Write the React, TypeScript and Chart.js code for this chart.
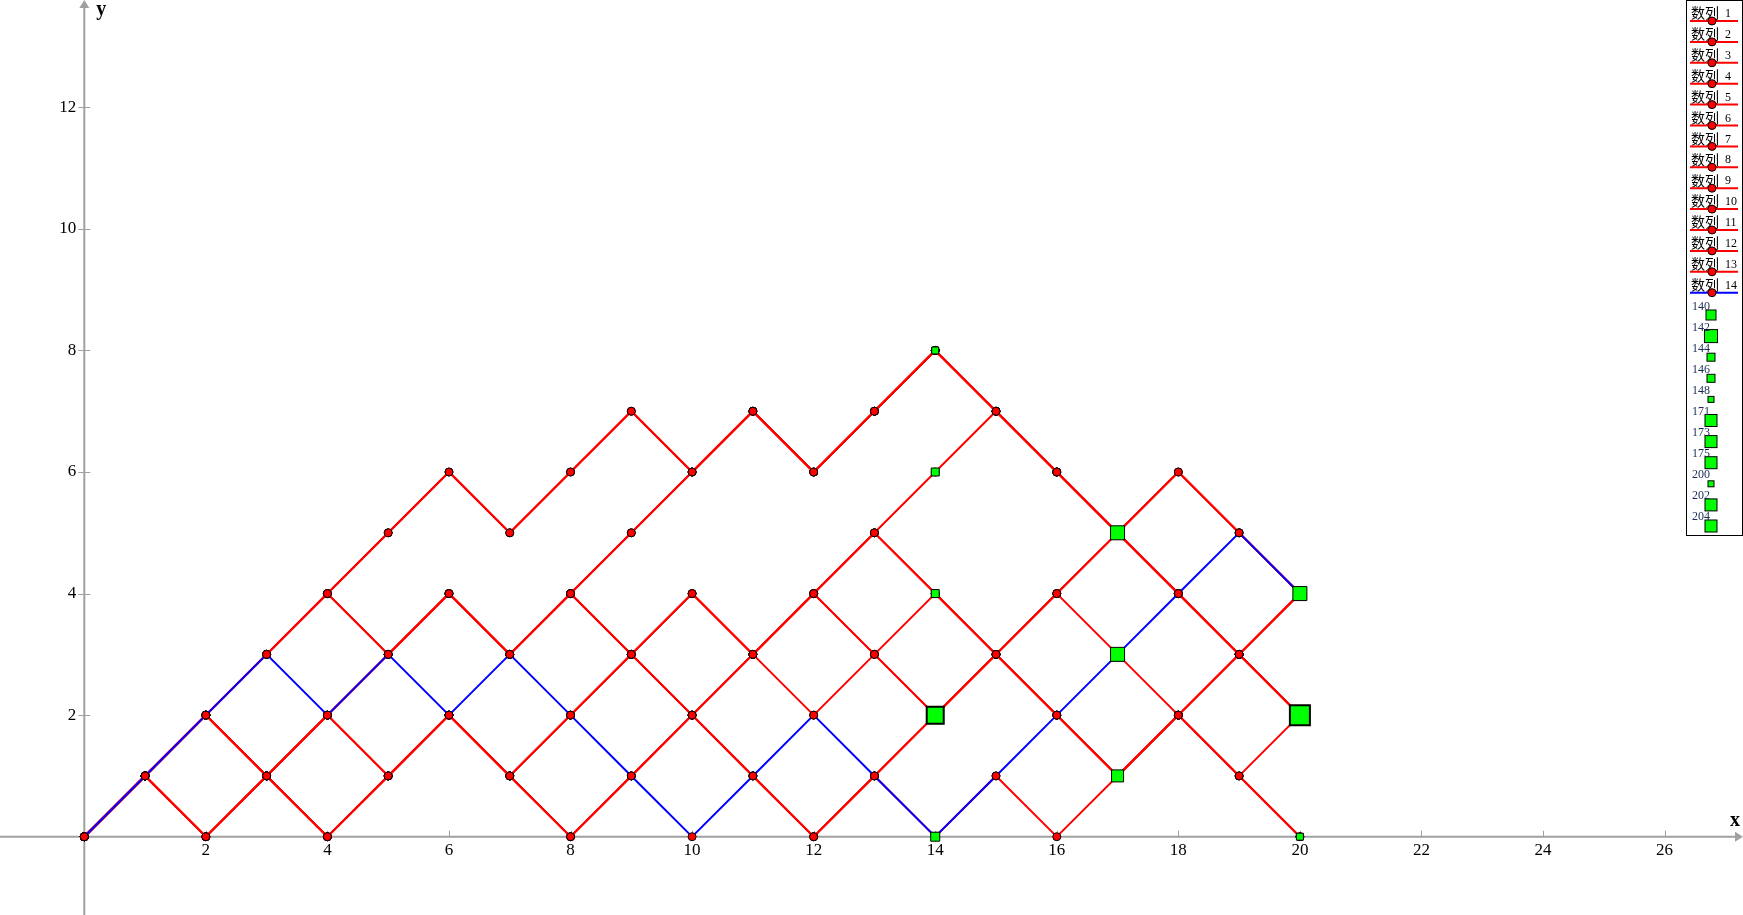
import React, { useEffect, useRef } from "react";
import { Chart, registerables } from "chart.js";

Chart.register(...registerables);

// ---- data ----
const steps = [0, 1, 2, 3, 4, 5, 6, 7, 8, 9, 10, 11, 12, 13, 14, 15, 16, 17, 18, 19, 20];

const path1 = [0, 1, 2, 3, 4, 5, 6, 5, 6, 7, 6, 7, 6, 7, 8, 7, 6, 5, 6, 5, 4];
const path2 = [0, 1, 2, 3, 4, 3, 4, 3, 4, 5, 6, 7, 6, 7, 8, 7, 6, 5, 4, 3, 2];
const path3 = [0, 1, 2, 1, 2, 3, 4, 3, 4, 3, 4, 3, 4, 5, 6, 7, 6, 5, 4, 3, 4];
const path4 = [0, 1, 0, 1, 0, 1, 2, 1, 0, 1, 2, 3, 4, 5, 4, 3, 4, 5, 4, 3, 2];
const path5 = [0, 1, 2, 1, 2, 1, 2, 1, 2, 3, 2, 1, 0, 1, 2, 3, 2, 1, 2, 1, 0];
const path6 = [0, 1, 0, 1, 2, 3, 4, 3, 4, 3, 2, 3, 2, 3, 4, 3, 4, 3, 2, 3, 2];
const path7 = [0, 1, 0, 1, 0, 1, 2, 1, 2, 3, 4, 3, 4, 3, 2, 3, 2, 1, 2, 1, 2];
const path8 = [0, 1, 2, 1, 0, 1, 2, 1, 0, 1, 2, 1, 0, 1, 0, 1, 0, 1, 2, 1, 0];
const path9 = [0, 1, 2, 3, 4, 3, 4, 3, 4, 3, 4, 3, 4, 5, 4, 3, 2, 1, 2, 3, 4];
const path10 = [0, 1, 2, 1, 0, 1, 2, 1, 2, 3, 2, 3, 4, 3, 2, 3, 4, 5, 4, 3, 2];
const path11 = [0, 1, 0, 1, 2, 1, 2, 1, 0, 1, 2, 1, 0, 1, 2, 3, 2, 1, 2, 3, 2];
const path12 = [0, 1, 2, 3, 4, 5, 6, 5, 6, 7, 6, 7, 6, 7, 8, 7, 6, 5, 4, 3, 4];
const path13 = [0, 1, 2, 1, 2, 3, 4, 3, 4, 5, 6, 7, 6, 7, 8, 7, 6, 5, 6, 5, 4];
const path14 = [0, 1, 2, 3, 2, 3, 2, 3, 2, 1, 0, 1, 2, 1, 0, 1, 2, 3, 4, 5, 4];

const seriesNames = ["数列 1", "数列 2", "数列 3", "数列 4", "数列 5", "数列 6", "数列 7", "数列 8", "数列 9", "数列 10", "数列 11", "数列 12", "数列 13", "数列 14"];
const paths = [path1, path2, path3, path4, path5, path6, path7, path8, path9, path10, path11, path12, path13, path14];

const greenLabels = ["140", "142", "144", "146", "148", "171", "173", "175", "200", "202", "204"];
const greenX = [14, 14, 14, 14, 14, 17, 17, 17, 20, 20, 20];
const greenY = [0, 2, 4, 6, 8, 1, 3, 5, 0, 2, 4];

const xTicks = [2, 4, 6, 8, 10, 12, 14, 16, 18, 20, 22, 24, 26];
const yTicks = [2, 4, 6, 8, 10, 12];

// ---- styles ----
const W = 1743;
const H = 915;
const RED = "#ff0000";
const BLUE = "#0000ff";
const GREEN = "#00ff00";
const AXIS = "#a0a0a0";
const greenSide = [9, 17, 8, 8, 7, 12, 14, 14, 7, 20, 14];
const greenBorder = [1, 2, 1, 1, 1, 1, 1, 1, 1, 2, 1];
const legendSide = [10, 13, 8, 8, 6, 12, 12, 12, 6, 12, 12];

const axesPlugin = {
  id: "geoAxes",
  beforeDatasetsDraw(chart: any) {
    const { ctx } = chart;
    const sx = chart.scales.x;
    const sy = chart.scales.y;
    const ox = sx.getPixelForValue(0);
    const oy = sy.getPixelForValue(0);
    const cw = chart.width;
    const ch = chart.height;
    ctx.save();
    ctx.strokeStyle = AXIS;
    ctx.fillStyle = AXIS;
    ctx.lineWidth = 2;
    ctx.beginPath();
    ctx.moveTo(0, oy);
    ctx.lineTo(cw - 5, oy);
    ctx.moveTo(ox, ch);
    ctx.lineTo(ox, 5);
    ctx.stroke();
    ctx.beginPath();
    ctx.moveTo(cw, oy);
    ctx.lineTo(cw - 8, oy - 5);
    ctx.lineTo(cw - 8, oy + 5);
    ctx.closePath();
    ctx.fill();
    ctx.beginPath();
    ctx.moveTo(ox, 0);
    ctx.lineTo(ox - 5, 8);
    ctx.lineTo(ox + 5, 8);
    ctx.closePath();
    ctx.fill();
    ctx.lineWidth = 1;
    ctx.beginPath();
    xTicks.forEach((v) => {
      const px = Math.round(sx.getPixelForValue(v)) + 0.5;
      ctx.moveTo(px, oy - 6);
      ctx.lineTo(px, oy);
    });
    yTicks.forEach((v) => {
      const py = Math.round(sy.getPixelForValue(v)) + 0.5;
      ctx.moveTo(ox - 6, py);
      ctx.lineTo(ox + 6, py);
    });
    ctx.stroke();
    ctx.fillStyle = "#000";
    ctx.font = '17px "Liberation Serif"';
    ctx.textAlign = "center";
    ctx.textBaseline = "middle";
    xTicks.forEach((v) => {
      ctx.fillText(String(v), sx.getPixelForValue(v), oy + 14);
    });
    ctx.textAlign = "right";
    yTicks.forEach((v) => {
      ctx.fillText(String(v), ox - 8, sy.getPixelForValue(v));
    });
    ctx.font = 'bold 20px "Liberation Serif"';
    ctx.textAlign = "left";
    ctx.fillText("y", ox + 12, 10);
    ctx.fillText("x", cw - 13, oy - 16);
    ctx.restore();
  },
};

const legendPlugin = {
  id: "geoLegend",
  afterDraw(chart: any) {
    const { ctx } = chart;
    ctx.save();
    const bx = 1686.5;
    const bw = 56;
    ctx.fillStyle = "#fff";
    ctx.fillRect(bx, 0.5, bw, 535);
    ctx.strokeStyle = "#000";
    ctx.lineWidth = 1;
    ctx.strokeRect(bx, 0.5, bw, 535);
    seriesNames.forEach((name, i) => {
      const ly = 21 + 20.9 * i;
      const parts = name.split(" ");
      ctx.fillStyle = "#000";
      ctx.textBaseline = "middle";
      ctx.textAlign = "left";
      ctx.font = '14px "Noto Sans CJK SC"';
      ctx.fillText(parts[0], 1691, ly - 8);
      ctx.font = '12px "Liberation Serif"';
      ctx.fillText(parts[1], 1725, ly - 7);
      ctx.strokeStyle = i === 13 ? BLUE : RED;
      ctx.lineWidth = 2;
      ctx.beginPath();
      ctx.moveTo(1690, ly);
      ctx.lineTo(1738, ly);
      ctx.stroke();
      ctx.beginPath();
      ctx.arc(1712, ly, 4, 0, Math.PI * 2);
      ctx.fillStyle = RED;
      ctx.fill();
      ctx.strokeStyle = "#000";
      ctx.lineWidth = 1;
      ctx.stroke();
    });
    greenLabels.forEach((lab, j) => {
      const ty = 306.7 + 21 * j;
      const sy = 315 + 21.1 * j;
      const s = legendSide[j];
      ctx.fillStyle = GREEN;
      ctx.fillRect(1711 - s / 2, sy - s / 2, s, s);
      ctx.strokeStyle = "#000";
      ctx.lineWidth = 1;
      ctx.strokeRect(1711 - s / 2, sy - s / 2, s, s);
      ctx.fillStyle = "#1a2c55";
      ctx.font = '12px "Liberation Serif"';
      ctx.textAlign = "left";
      ctx.textBaseline = "middle";
      ctx.fillText(lab, 1692, ty);
    });
    ctx.restore();
  },
};

export default function App() {
  const ref = useRef<HTMLCanvasElement | null>(null);
  useEffect(() => {
    if (!ref.current) return;
    const lineSets = paths.map((p, i) => ({
      label: seriesNames[i],
      data: steps.map((s, k) => ({ x: s, y: p[k] })),
      showLine: true,
      borderColor: i === 13 ? BLUE : RED,
      borderWidth: 2,
      pointRadius: 4,
      pointBackgroundColor: RED,
      pointBorderColor: "#000",
      pointBorderWidth: 1,
      tension: 0,
      order: i === 13 ? 1 : 20 - i,
    }));
    const greenSets = greenLabels.map((lab, j) => ({
      label: lab,
      data: [{ x: greenX[j], y: greenY[j] }],
      showLine: false,
      pointStyle: "rect",
      pointRadius: greenSide[j] / Math.SQRT2,
      pointBackgroundColor: GREEN,
      pointBorderColor: "#000",
      pointBorderWidth: greenBorder[j],
      order: 0,
    }));
    const unit = 60.78;
    const ox = 84.3;
    const oy = 836.7;
    const chart = new Chart(ref.current, {
      type: "scatter",
      data: { datasets: [...lineSets, ...greenSets] as any },
      options: {
        animation: false,
        responsive: false,
        events: [],
        layout: { padding: 0, autoPadding: false },
        plugins: { legend: { display: false }, tooltip: { enabled: false } },
        scales: {
          x: { type: "linear", display: false, min: -ox / unit, max: (W - ox) / unit },
          y: { type: "linear", display: false, min: -(H - oy) / unit, max: oy / unit },
        },
      },
      plugins: [axesPlugin, legendPlugin],
    });
    return () => chart.destroy();
  }, []);
  return (
    <div style={{ position: "fixed", left: 0, top: 0, width: W, height: H, background: "#fff" }}>
      <canvas ref={ref} width={W} height={H} style={{ display: "block", width: W, height: H }} />
    </div>
  );
}
